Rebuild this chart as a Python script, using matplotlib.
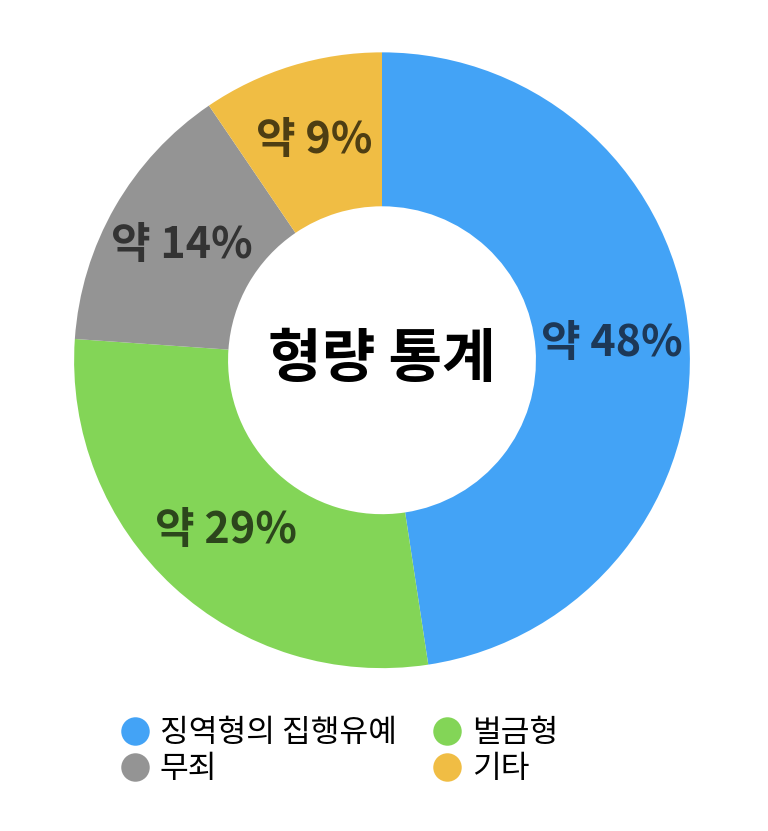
import matplotlib.pyplot as plt
from matplotlib.lines import Line2D

plt.rcParams['font.family'] = ['Noto Sans CJK KR', 'DejaVu Sans']

# data
categories = ['징역형의 집행유예', '벌금형', '무죄', '기타']
shares = [47.6, 28.5, 14.4, 9.5]
label_texts = ['약 48%', '약 29%', '약 14%', '약 9%']
colors = ['#43A3F6', '#83D557', '#949494', '#F0BD44']
label_colors = ['#1D3857', '#2C461C', '#333333', '#4E3E13']
center_title = '형량 통계'

fig = plt.figure(figsize=(7.68, 8.31), dpi=100)
ax = fig.add_axes([0.0964, 0.196, 0.802, 0.741])

wedges, texts = ax.pie(shares, colors=colors, startangle=90, counterclock=False,
                       radius=1.0, wedgeprops=dict(width=0.5, edgecolor='none'),
                       labels=label_texts, labeldistance=0.75)
for t, c in zip(texts, label_colors):
    t.set_color(c)
    t.set_fontsize(31)
    t.set_fontweight('bold')
    t.set_ha('center')
    t.set_va('center')

ax.text(0, 0, center_title, ha='center', va='center', fontsize=42,
        fontweight='bold', color='black')
ax.set_xlim(-1, 1)
ax.set_ylim(-1, 1)
ax.set_aspect('equal')
ax.axis('off')

# legend filled column by column
order = [0, 2, 1, 3]
handles = [Line2D([], [], marker='o', linestyle='none', markersize=20.5,
                  markerfacecolor=colors[i], markeredgecolor='none') for i in order]
fig.legend(handles, [categories[i] for i in order], ncol=2,
           loc='upper left', bbox_to_anchor=(0.155, 0.137),
           frameon=False, fontsize=22.5, handletextpad=0.3,
           columnspacing=1.1, labelspacing=0.12, handlelength=1.0,
           borderaxespad=0, borderpad=0)

fig.savefig('out.png', dpi=100, facecolor='white')
